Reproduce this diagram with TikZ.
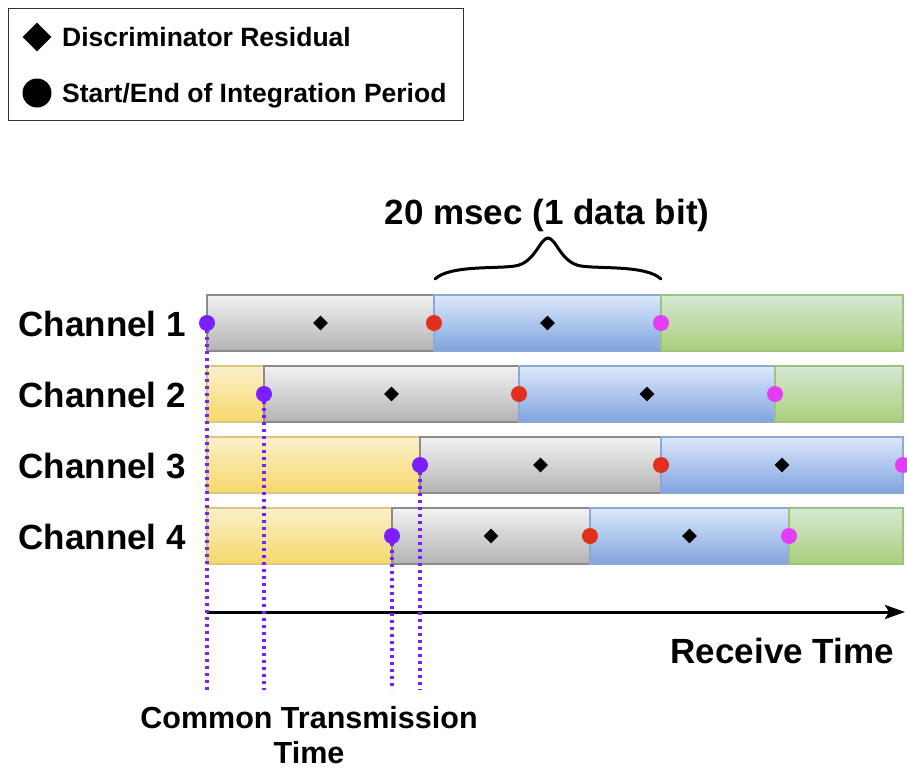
\documentclass[tikz,border=0pt]{standalone}
\usepackage{fontspec}
\setmainfont{Liberation Sans}
\usetikzlibrary{arrows.meta,shapes.geometric}
\definecolor{grayT}{HTML}{F2F2F2}
\definecolor{grayB}{HTML}{B3B3B3}
\definecolor{grayD}{HTML}{8C8C8C}
\definecolor{blueT}{HTML}{DCE8FB}
\definecolor{blueB}{HTML}{7FA4DE}
\definecolor{blueD}{HTML}{8DA8D6}
\definecolor{greenT}{HTML}{D6E8D3}
\definecolor{greenB}{HTML}{A9CF7C}
\definecolor{greenD}{HTML}{9DC47C}
\definecolor{yelT}{HTML}{FBF0CB}
\definecolor{yelB}{HTML}{F6D86A}
\definecolor{yelD}{HTML}{DCC57E}
\definecolor{dotP}{HTML}{7B1FFF}
\definecolor{dotR}{HTML}{E2301E}
\definecolor{dotM}{HTML}{E53CF6}
\begin{document}
\begin{tikzpicture}[x=1pt,y=-1pt,
  seg/.style={minimum height=56pt, inner sep=0pt, outer sep=0pt, anchor=west, line width=1.2pt},
  gseg/.style={seg, top color=grayT, bottom color=grayB, draw=grayD},
  bseg/.style={seg, top color=blueT, bottom color=blueB, draw=blueD},
  nseg/.style={seg, top color=greenT, bottom color=greenB, draw=greenD},
  yseg/.style={seg, top color=yelT, bottom color=yelB, draw=yelD},
  dotbase/.style={circle, inner sep=0pt, minimum size=16pt},
  pdot/.style={dotbase, fill=dotP},
  rdot/.style={dotbase, fill=dotR},
  mdot/.style={dotbase, fill=dotM},
  resid/.style={diamond, fill=black, inner sep=0pt, minimum size=15pt},
  vline/.style={draw=dotP, line width=3.6pt, dash pattern=on 3.2pt off 3.8pt},
  chlabel/.style={font=\fontsize{35}{40}\selectfont\bfseries, anchor=base east, inner sep=0pt},
  biglabel/.style={font=\fontsize{35}{40}\selectfont\bfseries, inner sep=0pt},
  leglabel/.style={font=\fontsize{26.5}{30}\selectfont\bfseries, anchor=base west, inner sep=0pt},
  ctlabel/.style={font=\fontsize{30.5}{35}\selectfont\bfseries, anchor=base, inner sep=0pt}
]
\useasboundingbox (0,0) rectangle (907,768);

% legend
\node[draw=black!80, line width=1.2pt, minimum width=455pt, minimum height=112pt, anchor=north west, inner sep=0pt] (legend) at (8,8) {};
\node[diamond, fill=black, inner sep=0pt, minimum size=29pt] (legdia) at (37,37) {};
\node[circle, fill=black, inner sep=0pt, minimum size=29pt] (legcirc) at (37,93) {};
\node[leglabel] (legt1) at (62,46.5) {Discriminator Residual};
\node[leglabel] (legt2) at (62,102.5) {Start/End of Integration Period};

% channel 1
\node[gseg, minimum width=227pt] (c1g) at (207,323) {};
\node[bseg, minimum width=227pt] (c1b) at (434,323) {};
\node[nseg, minimum width=242pt] (c1n) at (661,323) {};
% channel 2
\node[yseg, minimum width=57pt] (c2y) at (207,394) {};
\node[gseg, minimum width=255pt] (c2g) at (264,394) {};
\node[bseg, minimum width=256pt] (c2b) at (519,394) {};
\node[nseg, minimum width=128pt] (c2n) at (775,394) {};
% channel 3
\node[yseg, minimum width=213pt] (c3y) at (207,465) {};
\node[gseg, minimum width=241pt] (c3g) at (420,465) {};
\node[bseg, minimum width=242pt] (c3b) at (661,465) {};
% channel 4
\node[yseg, minimum width=185pt] (c4y) at (207,536) {};
\node[gseg, minimum width=198pt] (c4g) at (392,536) {};
\node[bseg, minimum width=199pt] (c4b) at (590,536) {};
\node[nseg, minimum width=114pt] (c4n) at (789,536) {};

% labels
\node[chlabel] (l1) at (186,336) {Channel 1};
\node[chlabel] (l2) at (186,407) {Channel 2};
\node[chlabel] (l3) at (186,478) {Channel 3};
\node[chlabel] (l4) at (186,549) {Channel 4};

% axis
\coordinate (ax0) at (207,612);
\coordinate (ax1) at (905,612);
\draw[line width=3pt, -{Stealth[length=20pt,width=14pt,inset=4pt]}] (ax0) -- (ax1);
\node[biglabel, anchor=base east] (rt) at (894,663) {Receive Time};

% dotted lines
\coordinate (bot) at (0,690);
\draw[vline] (c1g.west) -- (c1g.west |- bot);
\draw[vline] (c2g.west) -- (c2g.west |- bot);
\draw[vline] (c3g.west) -- (c3g.west |- bot);
\draw[vline] (c4g.west) -- (c4g.west |- bot);

% diamonds
\node[resid] (d1a) at (c1g.center) {};
\node[resid] (d1b) at (c1b.center) {};
\node[resid] (d2a) at (c2g.center) {};
\node[resid] (d2b) at (c2b.center) {};
\node[resid] (d3a) at (c3g.center) {};
\node[resid] (d3b) at (c3b.center) {};
\node[resid] (d4a) at (c4g.center) {};
\node[resid] (d4b) at (c4b.center) {};

% dots
\node[pdot] (p1) at (c1g.west) {};
\node[rdot] (r1) at (c1g.east) {};
\node[mdot] (m1) at (c1b.east) {};
\node[pdot] (p2) at (c2g.west) {};
\node[rdot] (r2) at (c2g.east) {};
\node[mdot] (m2) at (c2b.east) {};
\node[pdot] (p3) at (c3g.west) {};
\node[rdot] (r3) at (c3g.east) {};
\node[mdot] (m3) at (c3b.east) {};
\node[pdot] (p4) at (c4g.west) {};
\node[rdot] (r4) at (c4g.east) {};
\node[mdot] (m4) at (c4b.east) {};

% brace
\draw[line width=3pt, line cap=round]
  (435,279) .. controls (450,265) and (495,269) .. (515,266)
  .. controls (535,263) and (540,238) .. (548,238)
  .. controls (556,238) and (561,263) .. (581,266)
  .. controls (601,269) and (646,265) .. (661,279);
\node[biglabel, anchor=base] (bit) at (547,224) {20 msec (1 data bit)};

% bottom label
\node[ctlabel] (ct1) at (309,728) {Common Transmission};
\node[ctlabel] (ct2) at (309,763) {Time};
\end{tikzpicture}
\end{document}
